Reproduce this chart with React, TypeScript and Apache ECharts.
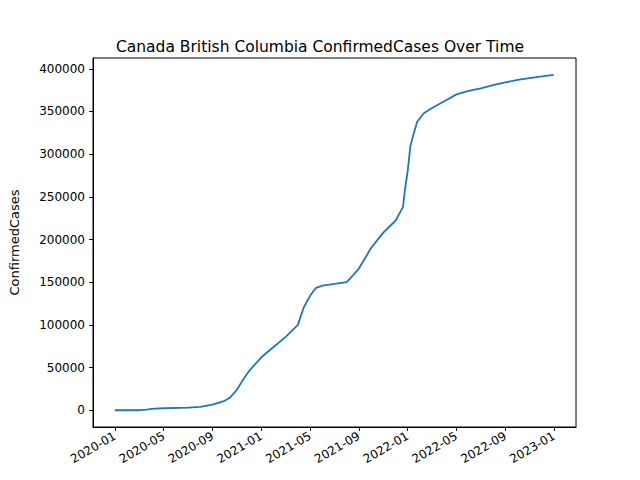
import React, { useEffect, useRef } from "react";
import * as echarts from "echarts";

const dates = [
  "2020-01-01","2020-03-01","2020-03-20","2020-04-01","2020-05-01","2020-07-01","2020-08-01","2020-09-01","2020-10-01","2020-10-15","2020-11-01","2020-11-15","2020-12-01","2021-01-01","2021-02-01","2021-03-01","2021-04-01","2021-04-15","2021-05-01","2021-05-15","2021-06-01","2021-07-01","2021-08-01","2021-08-15","2021-09-01","2021-10-01","2021-11-01","2021-12-01","2021-12-20","2021-12-25","2022-01-01","2022-01-08","2022-01-15","2022-01-25","2022-02-10","2022-03-01","2022-04-01","2022-05-01","2022-06-01","2022-07-01","2022-08-01","2022-09-01","2022-10-01","2022-11-01","2022-12-01","2022-12-31"
];
const cases = [
  0,0,800,1500,2300,3000,4000,6500,11000,15000,24000,35000,46000,62000,74000,86000,100000,120000,134000,143000,146000,148000,150000,157000,166000,190000,208000,222000,238000,258000,280000,310000,322000,338000,348000,354000,362000,370000,374000,377000,381000,384000,387000,389000,391000,393000
];
const tickLabels = ["2020-01","2020-05","2020-09","2021-01","2021-05","2021-09","2022-01","2022-05","2022-09","2023-01"];
const yTicks = [0,50000,100000,150000,200000,250000,300000,350000,400000];

function toMonths(d: string) {
  const [y, m, day] = d.split("-").map(Number);
  const dim = new Date(y, m, 0).getDate();
  return (y - 2020) * 12 + (m - 1) + (day - 1) / dim;
}

export default function App() {
  const ref = useRef<HTMLDivElement>(null);
  useEffect(() => {
    const chart = echarts.init(ref.current!, null, { renderer: "svg" });
    const tickVals = tickLabels.map((_, i) => i * 4);
    const font = "DejaVu Sans";
    chart.setOption({
      animation: false,
      textStyle: { fontFamily: font },
      title: {
        text: "Canada British Columbia ConfirmedCases Over Time",
        left: "center", top: 34,
        textStyle: { fontFamily: font, fontSize: 15.5, fontWeight: "normal", color: "#000" },
      },
      grid: { left: 80, right: 64, top: 58, bottom: 53, show: true, borderColor: "#000", borderWidth: 1, backgroundColor: "transparent" },
      xAxis: {
        type: "value", min: -1.8, max: 37.8,
        splitLine: { show: false },
        axisLine: { onZero: false, lineStyle: { color: "#000" } },
        axisTick: { customValues: tickVals, length: 4, lineStyle: { color: "#000" } },
        axisLabel: {
          customValues: tickVals, rotate: 30, color: "#000", fontSize: 12, margin: 8,
          formatter: (v: number) => tickLabels[Math.round(v / 4)] ?? "",
        },
      },
      yAxis: {
        type: "value", min: -19650, max: 412650,
        name: "ConfirmedCases", nameLocation: "middle", nameGap: 72,
        nameTextStyle: { color: "#000", fontSize: 13, fontFamily: font },
        splitLine: { show: false },
        axisLine: { show: true, onZero: false, lineStyle: { color: "#000" } },
        axisTick: { show: true, customValues: yTicks, length: 4, lineStyle: { color: "#000" } },
        axisLabel: { customValues: yTicks, color: "#000", fontSize: 12, formatter: (v: number) => String(v) },
      },
      series: [{
        type: "line", showSymbol: false,
        data: dates.map((d, i) => [toMonths(d), cases[i]]),
        lineStyle: { color: "#1f77b4", width: 1.8 },
      }],
    });
    return () => chart.dispose();
  }, []);
  return <div ref={ref} style={{ width: 640, height: 480, position: "fixed", left: 0, top: 0, background: "#fff" }} />;
}
